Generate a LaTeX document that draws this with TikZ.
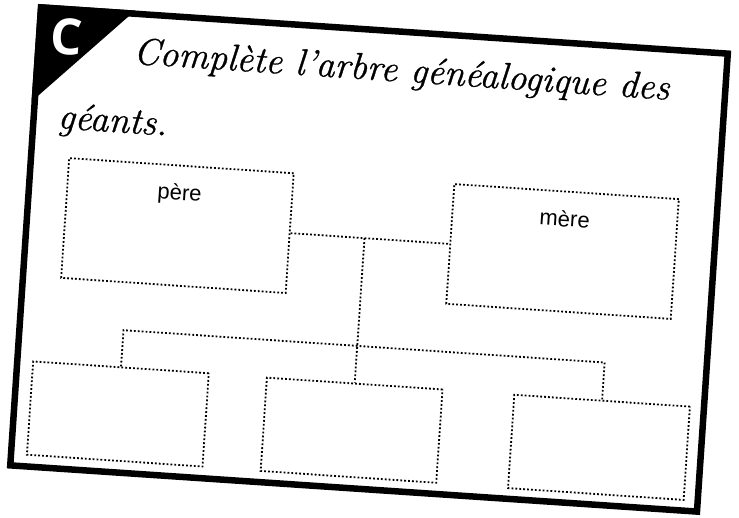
\documentclass[tikz,border=0pt]{standalone}
\usepackage{fontspec}
\newfontfamily\labelfont{Liberation Sans}
\newfontfamily\badgefont{Open Sans}
\newfontfamily\titlefont{Latin Modern Roman}[FakeBold=0.8]
\usetikzlibrary{calc}
\begin{document}
\begin{tikzpicture}[x=1pt,y=-1pt,
  dotline/.style={line width=1.8pt, dash pattern=on 1.8pt off 2.1pt, black},
  famebox/.style={draw, dotline, rectangle, inner sep=0pt},
  parentbox/.style={famebox, minimum width=225pt, minimum height=120pt},
  childbox/.style={famebox, minimum width=176pt, minimum height=93.5pt},
  lbl/.style={font=\labelfont\fontsize{22}{26}\selectfont, anchor=base, inner sep=0pt},
  titletext/.style={font=\titlefont\fontsize{37.5}{44}\selectfont\itshape, anchor=base west, inner sep=0pt},
  cardborder/.style={line width=6.5pt, line join=miter, black},
  badgetext/.style={font=\badgefont\bfseries\fontsize{50}{50}\selectfont, text=white, inner sep=0pt}
]
\useasboundingbox (0,0) rectangle (739,518);
\fill[white] (0,0) rectangle (739,518);
\begin{scope}[shift={(369,260.5)}, rotate=-3.85, transform shape]
  \fill[black] (-347.4,-233.7) -- (-250,-233.7) -- (-347.4,-136) -- cycle;
  \draw[cardborder] (-344.2,-230.5) rectangle (344.1,228.5);
  \node[badgetext] (badge) at (-317,-202.7) {C};
  \node[titletext] (t1) at (-249,-180.5) {Complète l’arbre généalogique des};
  \node[titletext] (t2) at (-320,-111) {géants.};
  \node[parentbox] (pere) at (-193.5,-22) {};
  \node[parentbox] (mere) at (192.5,-22) {};
  \node[lbl] (pereT) at (-193.5,-47.5) {père};
  \node[lbl] (mereT) at (192.5,-47) {mère};
  \node[childbox] (c1) at (-240.3,170) {};
  \node[childbox] (c2) at (-6,170.5) {};
  \node[childbox] (c3) at (242,171) {};
  \coordinate (jp) at (-6,-22);
  \coordinate (jb) at (-6,86);
  \draw[dotline] (pere.east) -- (mere.west);
  \draw[dotline] (jp) -- (c2.north);
  \draw[dotline] (c1.north) |- (jb) -| (c3.north);
\end{scope}
\end{tikzpicture}
\end{document}
